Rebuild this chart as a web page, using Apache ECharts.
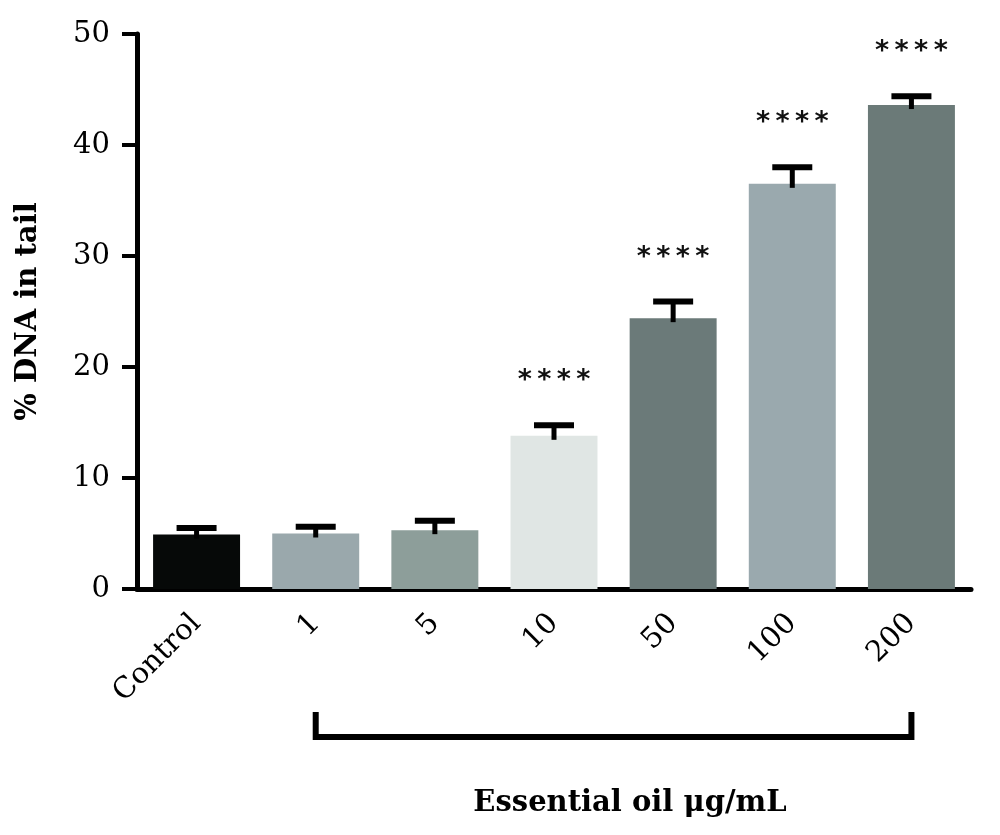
<!DOCTYPE html>
<html>
<head>
<meta charset="utf-8">
<script src="https://cdn.jsdelivr.net/npm/echarts@6/dist/echarts.min.js"></script>
<style>
  html, body { margin: 0; padding: 0; background: #fff; }
  #chart { width: 1000px; height: 835px; }
</style>
</head>
<body>
<div id="chart"></div>
<script>
// data
var categories = ['Control', '1', '5', '10', '50', '100', '200'];
var means = [4.9, 5.0, 5.3, 13.8, 24.4, 36.5, 43.6];
var errors = [0.6, 0.6, 0.85, 0.95, 1.5, 1.5, 0.8];
var stars = ['', '', '', '****', '****', '****', '****'];
var barColors = ['#060908', '#9aa8ac', '#8d9e9a', '#e0e6e4', '#6b7a79', '#9aa9ae', '#6b7a78'];
var yTicks = [0, 10, 20, 30, 40, 50];

var serif = '"DejaVu Serif", "Liberation Serif", serif';

var chart = echarts.init(document.getElementById('chart'));

var barData = means.map(function (v, i) {
	return { value: v, itemStyle: { color: barColors[i] } };
});
var errData = means.map(function (v, i) {
	return [i, v, v + errors[i], stars[i]];
});

var option = {
	animation: false,
	grid: { left: 137, right: 29, top: 34, bottom: 246 },
	xAxis: {
		type: 'category',
		data: categories,
		axisLine: { lineStyle: { color: '#000', width: 5 } },
		axisTick: { alignWithLabel: true, length: 15, lineStyle: { color: '#000', width: 4 } },
		axisLabel: { rotate: 45, margin: 30, fontFamily: serif, fontSize: 29, color: '#000' }
	},
	yAxis: {
		type: 'value',
		min: yTicks[0],
		max: yTicks[yTicks.length - 1],
		interval: 10,
		name: '% DNA in tail',
		nameLocation: 'middle',
		nameGap: 94,
		nameTextStyle: { fontFamily: serif, fontSize: 29, fontWeight: 'bold', color: '#000' },
		axisLine: { show: true, lineStyle: { color: '#000', width: 5 } },
		axisTick: { show: true, length: 15, lineStyle: { color: '#000', width: 4 } },
		axisLabel: { margin: 27, fontFamily: serif, fontSize: 29, color: '#000' },
		splitLine: { show: false }
	},
	series: [
		{
			type: 'bar',
			data: barData,
			barWidth: '73%',
			z: 2
		},
		{
			type: 'custom',
			z: 3,
			data: errData,
			renderItem: function (params, api) {
				var base = api.coord([api.value(0), api.value(1)]);
				var top = api.coord([api.value(0), api.value(2)]);
				var half = 20;
				var kids = [
					{ type: 'line', shape: { x1: base[0], y1: base[1] + 4, x2: top[0], y2: top[1] },
					  style: { stroke: '#000', lineWidth: 5 } },
					{ type: 'line', shape: { x1: top[0] - half, y1: top[1], x2: top[0] + half, y2: top[1] },
					  style: { stroke: '#000', lineWidth: 6 } }
				];
				var s = errData[params.dataIndex][3];
				if (s) {
					kids.push({
						type: 'text',
						style: {
							text: s.split('').join('\u2009'), x: top[0], y: top[1] - 44,
							align: 'center', verticalAlign: 'middle',
							fontFamily: '"DejaVu Sans", sans-serif', fontWeight: 'bold', fontSize: 27,
							fill: '#111'
						}
					});
				}
				return { type: 'group', children: kids };
			}
		}
	]
};
chart.setOption(option);

// bracket under the treated groups, and the axis title
var left = chart.convertToPixel({ xAxisIndex: 0 }, '1');
var right = chart.convertToPixel({ xAxisIndex: 0 }, '200');
chart.setOption({
	graphic: [
		{
			type: 'polyline',
			shape: { points: [[left, 712], [left, 737], [right, 737], [right, 712]] },
			style: { stroke: '#000', lineWidth: 6, fill: null, lineJoin: 'miter' }
		},
		{
			type: 'text',
			x: 630, y: 803,
			style: {
				text: 'Essential oil μg/mL',
				align: 'center', verticalAlign: 'middle',
				fontFamily: serif, fontWeight: 'bold', fontSize: 29, fill: '#000'
			}
		}
	]
});
</script>
</body>
</html>
